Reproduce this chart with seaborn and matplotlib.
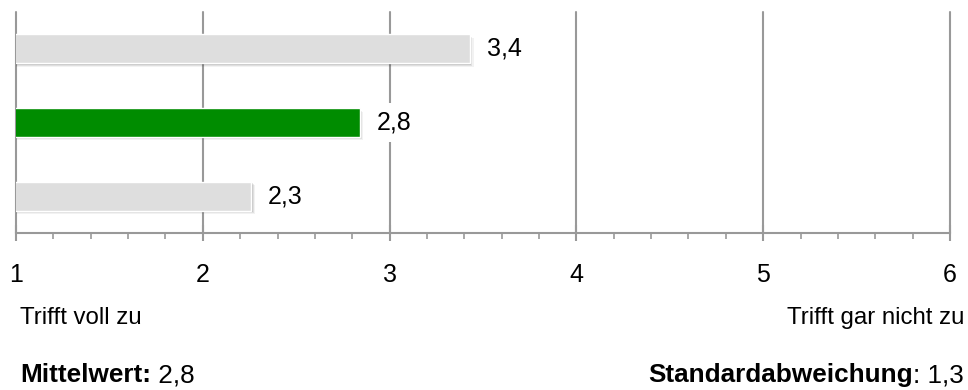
import matplotlib
matplotlib.use("Agg")
import matplotlib.pyplot as plt
import matplotlib.patheffects as pe
from matplotlib.ticker import MultipleLocator
import pandas as pd
import seaborn as sns

# === Daten ===
categories = ["Gruppe A", "Gruppe B", "Gruppe C"]
values = [3.43, 2.84, 2.26]
bar_colors = ["#dedede", "#008c00", "#dedede"]
tick_values = [1, 2, 3, 4, 5, 6]
left_label = "Trifft voll zu"
right_label = "Trifft gar nicht zu"
mean_value = "2,8"
std_value = "1,3"

df = pd.DataFrame({"cat": categories, "val": values})

sns.set_theme(style="white")
plt.rcParams["font.family"] = ["Liberation Sans", "DejaVu Sans"]
plt.rcParams["text.color"] = "#000000"

W, H = 968, 390
fig = plt.figure(figsize=(W / 100, H / 100), dpi=100)
ax = fig.add_axes([16 / W, 1 - 233 / H, (950 - 16) / W, (233 - 12) / H])

grid_col = "#999999"

# === Balken ===
sns.barplot(data=df, x="val", y="cat", hue="cat", palette=bar_colors,
            orient="h", width=0.39, legend=False, saturation=1, ax=ax)
# weicher Schatten (mehrere Schichten)
for patch in ax.patches:
    patch.set_path_effects([
        pe.SimplePatchShadow(offset=(2.6, -2.6), shadow_rgbFace="#000000", alpha=0.05),
        pe.SimplePatchShadow(offset=(1.8, -1.8), shadow_rgbFace="#000000", alpha=0.08),
        pe.SimplePatchShadow(offset=(1.0, -1.0), shadow_rgbFace="#000000", alpha=0.12),
        pe.Normal(),
    ])

# Werte-Beschriftungen
for i, v in enumerate(values):
    ax.annotate(f"{v:.1f}".replace(".", ","), xy=(v, i), xytext=(12, 0),
                textcoords="offset points", va="center", ha="left",
                fontsize=18, color="#000000",
                bbox=dict(boxstyle="square,pad=0.3", fc="white", ec="none"))

# === Achsen ===
ax.set_xlim(1, 6)
ax.set_ylim(2.5, -0.5)
ax.set_xticks(tick_values)
ax.set_xticklabels([str(t) for t in tick_values])
ax.xaxis.set_minor_locator(MultipleLocator(0.2))
ax.set_yticks([])
ax.set_xlabel("")
ax.set_ylabel("")

ax.set_axisbelow(True)
ax.xaxis.grid(True, color=grid_col, linewidth=1.5)
for gl in ax.get_xgridlines():
    gl.set_clip_on(False)

for s in ["top", "right", "left"]:
    ax.spines[s].set_visible(False)
ax.spines["bottom"].set_color(grid_col)
ax.spines["bottom"].set_linewidth(1.5)

ax.tick_params(axis="x", which="major", direction="inout", length=11.5,
               width=1.5, color=grid_col, labelsize=18, pad=16,
               labelcolor="#000000", bottom=True)
ax.tick_params(axis="x", which="minor", direction="out", length=4.5,
               width=1.2, color=grid_col, bottom=True)

# === Texte unten ===
fig.text(20 / W, 1 - 324 / H, left_label, fontsize=17.3, va="baseline", ha="left")
fig.text(964 / W, 1 - 324 / H, right_label, fontsize=17.3, va="baseline", ha="right")

t_mean = fig.text(20 / W, 1 - 382 / H, "Mittelwert:", fontsize=18.8,
                  fontweight="bold", va="baseline", ha="left")
ax.annotate(" " + mean_value, xy=(1, 0), xycoords=t_mean, fontsize=18.8,
            va="bottom", ha="left", annotation_clip=False)

t_std = fig.text(964 / W, 1 - 382 / H, ": " + std_value, fontsize=18.8,
                 va="baseline", ha="right")
ax.annotate("Standardabweichung", xy=(0, 0), xycoords=t_std, fontsize=18.8,
            fontweight="bold", va="bottom", ha="right", annotation_clip=False)

fig.savefig("out.png", dpi=100)
plt.close(fig)
